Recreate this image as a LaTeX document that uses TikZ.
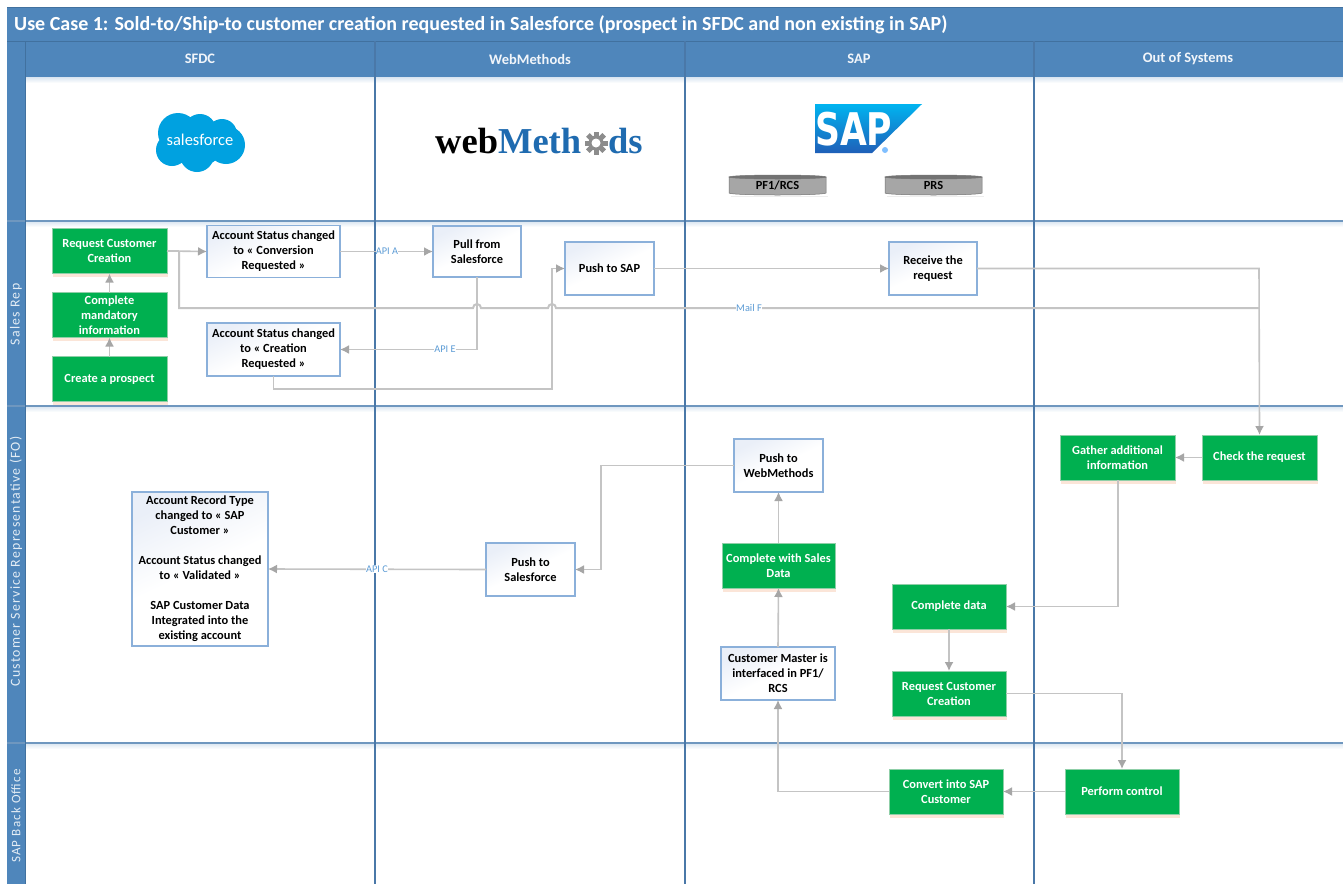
\documentclass[tikz,border=0pt]{standalone}
\usepackage{fontspec}
\setmainfont{Carlito}
\newfontfamily\lanefont[LetterSpace=9]{Carlito}
\newfontfamily\wmfont{Liberation Serif}
\newfontfamily\sapfont{DejaVu Sans}
\usetikzlibrary{arrows.meta,calc}
\definecolor{band}{HTML}{4F86BB}
\definecolor{bandline}{HTML}{41719F}
\definecolor{sep}{HTML}{4A78A8}
\definecolor{rowline}{HTML}{6F97BF}
\definecolor{conn}{HTML}{C4C4C4}
\definecolor{tipc}{HTML}{A6A6A6}
\definecolor{grn}{HTML}{00B050}
\definecolor{grnline}{HTML}{8FCFA8}
\definecolor{shad}{HTML}{FBE5D8}
\definecolor{wfline}{HTML}{8BB0DA}
\definecolor{wffill}{HTML}{EAEFF8}
\definecolor{lbl}{HTML}{5B9BD5}
\definecolor{sfblue}{HTML}{00A1E0}
\definecolor{wmblue}{HTML}{1F6BB0}
\definecolor{saptop}{HTML}{00B4F0}
\definecolor{sapbot}{HTML}{1F5FB8}
\tikzset{
  x=1pt,y=-1pt,
  boxtext/.style={align=center,font=\fontsize{12.4}{15}\selectfont\bfseries,inner sep=0pt,outer sep=0pt},
  greenbox/.style={boxtext,rectangle,draw=grnline,line width=.8pt,fill=grn,text=white,
     minimum width=#1,minimum height=45pt},
  greenbox/.default=115pt,
  whitebox/.style n args={2}{boxtext,rectangle,draw=wfline,line width=1.2pt,
     top color=wffill,bottom color=white,middle color=white,shading angle=25,text=black,
     minimum width=#1,minimum height=#2},
  link/.style={draw=conn,line width=1.6pt,-{Latex[length=9pt,width=9pt,color=tipc]}},
  plainlink/.style={draw=conn,line width=1.6pt},
  maillink/.style={draw=conn,line width=2pt},
  conlabel/.style={font=\fontsize{10.3}{12}\selectfont,text=lbl,fill=white,inner sep=.4pt},
  colhead/.style={font=\fontsize{14.5}{16}\selectfont\bfseries,text=white!92!band},
  lanehead/.style={font=\fontsize{13.8}{15}\lanefont,text=white!85!band,rotate=90},
  dbtext/.style={font=\fontsize{12.4}{14}\selectfont\bfseries,text=black,inner sep=0pt},
}
\newcommand{\dbcyl}[3]{%
  \fill[black!7] (#1+2,195.5) rectangle (#1+99,197);
  \fill[draw=black!55,line width=.5pt,fill=black!35] (#1,177) -- (#1,193) arc[start angle=180,end angle=0,x radius=48.5,y radius=2] -- (#1+97,177) -- cycle;
  \fill[draw=black!55,line width=.5pt,fill=black!55] (#1+48.5,177) ellipse[x radius=48.5,y radius=2];
  \node[dbtext] (#3) at (#1+48.5,185) {#2};
}
\begin{document}
\begin{tikzpicture}
\useasboundingbox (0,0) rectangle (1343,884);
\fill[white] (0,0) rectangle (1343,884);
% soft row shadows
\foreach \yy in {77,221,406,743}{
  \shade[top color=band!22,bottom color=white] (25,\yy) rectangle (1343,\yy+6);
}
% header bands
\fill[band] (7,7) rectangle (1343,77);
\fill[band] (7,77) rectangle (25,884);
\draw[bandline,line width=.8pt] (7,7) -- (1343,7);
\draw[bandline,line width=.8pt] (7,41) -- (1343,41);
\draw[bandline,line width=.8pt] (25,41) -- (25,77);
% swimlane lines
\foreach \yy in {221,406,743}{\draw[rowline,line width=1.4pt] (7,\yy) -- (1343,\yy);}
\foreach \xx in {375,685,1034}{\draw[sep,line width=1.2pt] (\xx,41) -- (\xx,884);}
\draw[bandline,line width=.7pt] (25,77) -- (25,884);
% header text
\node[anchor=west,font=\fontsize{20}{22}\selectfont\bfseries,text=white,inner sep=0pt] (title) at (14,25) {Use Case 1: Sold-to/Ship-to customer creation requested in Salesforce (prospect in SFDC and non existing in SAP)};
\node[colhead] (colsfdc) at (200,59) {SFDC};
\node[colhead] (colwm) at (530,59) {WebMethods};
\node[colhead] (colsap) at (859,59) {SAP};
\node[colhead] (colout) at (1188,59) {Out of Systems};
\node[lanehead] (lanerep) at (16,314.5) {Sales Rep};
\node[lanehead] (lanecsr) at (16,561.5) {Customer Service Representative (FO)};
\node[lanehead,font=\fontsize{13}{15}\lanefont] (lanebo) at (16,816) {SAP Back Office};
% salesforce logo
\fill[sfblue] (178,133) circle (20) (200,130) circle (16) (222,134) circle (15) (226,145) circle (19) (197,155) circle (17) (172,150) circle (16) (200,142) circle (24);
\node[font=\fontsize{16.5}{18}\selectfont,text=white,inner sep=0pt] (sflogo) at (200,140) {salesforce};
% webmethods logo
\node[anchor=base west,font=\fontsize{36.5}{38}\wmfont\bfseries,inner sep=0pt] (wmlogo) at (435,153.5) {web\textcolor{wmblue}{Meth}\hspace{27pt}\textcolor{wmblue}{ds}};
\fill[black!45] (596,143) circle (7.5);
\foreach \a in {0,45,...,315}{\fill[black!45,rotate around={\a:(596,143)}] (593.5,131.5) rectangle (598.5,137);}
\fill[white] (596,143) circle (4.5);
% SAP logo
\shade[top color=saptop,bottom color=sapbot] (815,104) -- (922,104) -- (872,153) -- (815,153) -- cycle;
\node[font=\fontsize{45}{46}\sapfont\bfseries,text=white,inner sep=0pt,xscale=.77,anchor=base west] (saplogo) at (815,145) {SAP};
\fill[blue!50!cyan!50!white] (885,150) circle (3);
\dbcyl{729}{PF1/RCS}{dbpf}
\dbcyl{885}{PRS}{dbprs}
% green shadows and nodes
\foreach \xa/\ya/\xb/\yb in {52/229/167/273,52/293/167/337,52/357/167/401,1060/435/1175/480,1202/435/1317/480,722/543/835/588,892/584/1006/629,892/671/1006/716,889/769/1003/814,1065/769/1179/814}{
  \fill[shad] (\xa+1,\yb) rectangle (\xb+1,\yb+3.5);
}
\node[greenbox] (reqc) at (109.5,251) {Request Customer\\Creation};
\node[greenbox] (compm) at (109.5,315) {Complete\\mandatory\\information};
\node[greenbox] (create) at (109.5,379) {Create a prospect};
\node[whitebox={133pt}{52pt}] (accconv) at (273.5,251.5) {Account Status changed\\to « Conversion\\Requested »};
\node[whitebox={133pt}{53pt}] (acccre) at (273.5,349.5) {Account Status changed\\to « Creation\\Requested »};
\node[whitebox={88pt}{51pt}] (pull) at (477,251.5) {Pull from\\Salesforce};
\node[whitebox={89pt}{53pt}] (pushsap) at (609.5,268.5) {Push to SAP};
\node[whitebox={88pt}{53pt}] (recv) at (933,268.5) {Receive the\\request};
\node[greenbox={115pt}] (gather) at (1117.5,457.5) {Gather additional\\information};
\node[greenbox={115pt}] (check) at (1259.5,457.5) {Check the request};
\node[whitebox={89pt}{53pt}] (pushwm) at (778.5,465.5) {Push to\\WebMethods};
\node[greenbox={113pt}] (compsales) at (778.5,565.5) {Complete with Sales\\Data};
\node[whitebox={114pt}{53pt}] (master) at (778,673.5) {Customer Master is\\interfaced in PF1/\\RCS};
\node[greenbox={114pt}] (compd) at (949,606.5) {Complete data};
\node[greenbox={114pt}] (reqc2) at (949,693.5) {Request Customer\\Creation};
\node[greenbox={114pt}] (conv) at (946,791.5) {Convert into SAP\\Customer};
\node[greenbox={114pt}] (perform) at (1122,791.5) {Perform control};
\node[whitebox={136pt}{154pt}] (record) at (200,569) {Account Record Type\\changed to « SAP\\Customer »\\[15pt]Account Status changed\\to « Validated »\\[15pt]SAP Customer Data\\Integrated into the\\existing account};
\node[whitebox={89pt}{53pt}] (pushsf) at (530.5,569.5) {Push to\\Salesforce};
% routing coordinates
\coordinate (mA) at (179,251);
\coordinate (mB) at (179,308);
\coordinate (mC) at (1259,308);
\coordinate (hopA) at (477,308);
\coordinate (hopB) at (552,308);
\coordinate (cA) at (552,389);
\coordinate (rC) at (1259,268.5);
\coordinate (wA) at (601,465.5);
\coordinate (gA) at (1118,606.5);
\coordinate (rD) at (1122,693.5);
\coordinate (cB) at (778,791.5);
% connectors
\draw[plainlink] (reqc.east) -- (mA);
\draw[link] (reqc.east) -- (accconv.west);
\draw[maillink] (mA) -- (mB) -- ($(hopA)+(-4,0)$) arc[start angle=180,end angle=360,radius=4] -- ($(hopB)+(-4,0)$) arc[start angle=180,end angle=360,radius=4] -- (mC);
\draw[link] (create.north) -- (compm.south);
\draw[link] (compm.north) -- (reqc.south);
\draw[link] (accconv.east) -- (pull.west);
\draw[link] (pull.south) |- (acccre.east);
\draw[link] (acccre.south) |- (cA) |- (pushsap.west);
\draw[link] (pushsap.east) -- (recv.west);
\draw[link] (recv.east) -- (rC) -- (check.north);
\draw[link] (check.west) -- (gather.east);
\draw[link] (gather.south -| gA) -- (gA) -- (compd.east);
\draw[link] (compd.south) -- (reqc2.north);
\draw[link] (reqc2.east) -- (rD) -- (perform.north);
\draw[link] (perform.west) -- (conv.east);
\draw[link] (conv.west) -- (cB) -- (master.south);
\draw[link] (master.north) -- (compsales.south);
\draw[link] (compsales.north) -- (pushwm.south);
\draw[link] (pushwm.west) -- (wA) |- (pushsf.east);
\draw[link] (pushsf.west) -- (record.east);
% connector labels
\node[conlabel] (apia) at (387,251) {API A};
\node[conlabel] (apie) at (445,349.5) {API E};
\node[conlabel] (apic) at (377,569) {API C};
\node[conlabel] (mailf) at (749,308) {Mail F};
\end{tikzpicture}
\end{document}
